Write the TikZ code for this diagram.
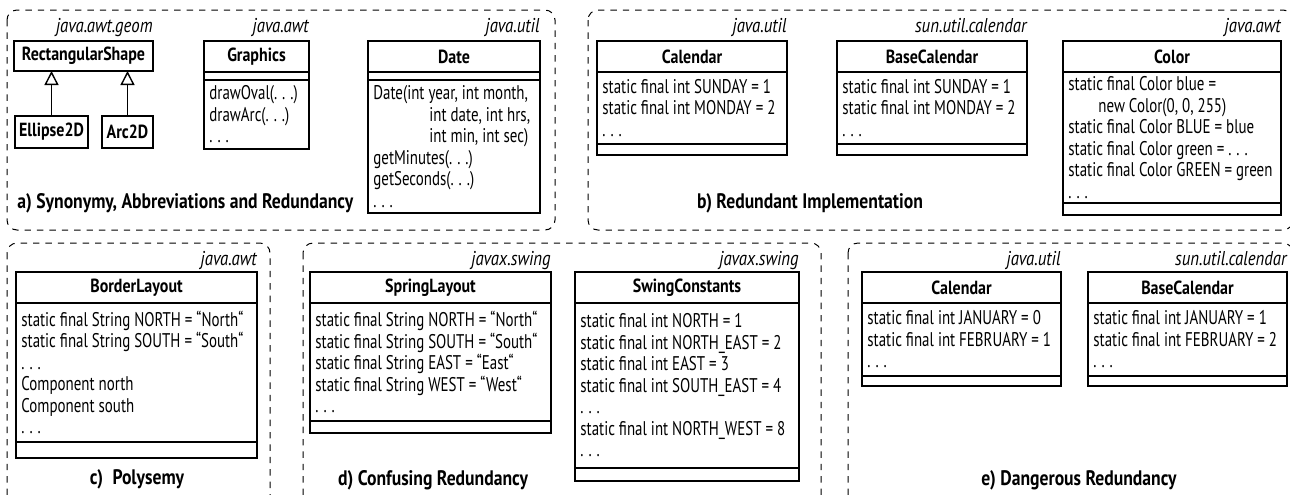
\documentclass[tikz,border=0pt]{standalone}
\usepackage{fontspec}
\setmainfont{PT Sans}[FakeStretch=0.84]
\newfontfamily\memberfont{PT Sans}[FakeStretch=0.755]
\usetikzlibrary{arrows.meta}

% spaced ellipsis used in member lists
\newcommand\dotsx{.\kern.25em.\kern.25em.}

\tikzset{
  grp/.style={draw, line width=0.5pt, dash pattern=on 3.2pt off 3pt, rounded corners=5pt},
  clshead/.style={draw, line width=0.7pt, inner sep=0pt, outer sep=0pt,
    font=\fontsize{9.5}{11}\selectfont\bfseries},
  clsbox/.style={draw, line width=0.7pt, inner sep=0pt, outer sep=0pt},
  members/.style={inner xsep=2.5pt, inner ysep=0pt, align=left, anchor=west,
    font=\memberfont\fontsize{9.9}{10.75}\selectfont},
  pkg/.style={inner sep=0pt, font=\fontsize{10}{12}\selectfont\itshape},
  grplabel/.style={inner sep=0pt, font=\fontsize{10.5}{12}\selectfont\bfseries},
  gen/.style={line width=0.7pt, -{Triangle[open, length=7pt, width=7pt]}},
}

% class box: header, attribute compartment with text, empty operation compartment
% #1 name, #2 left, #3 top, #4 width, #5 header h, #6 attribute h, #7 operation h, #8 title, #9 attributes
\newcommand\umlattr[9]{%
  \pgfmathsetlengthmacro\clsw{#4*0.5pt}%
  \node[clshead, minimum width=\clsw, minimum height=#5*0.5pt, anchor=north west] (#1) at (#2,#3) {#8};
  \node[clsbox, minimum width=\clsw, minimum height=#6*0.5pt, anchor=north] (#1-attr) at (#1.south) {};
  \node[clsbox, minimum width=\clsw, minimum height=#7*0.5pt, anchor=north] (#1-ops) at (#1-attr.south) {};
  \node[members] (#1-attrtext) at (#1-attr.west) {#9};
}
% class box: header, empty attribute compartment, operation compartment with text
\newcommand\umlops[9]{%
  \pgfmathsetlengthmacro\clsw{#4*0.5pt}%
  \node[clshead, minimum width=\clsw, minimum height=#5*0.5pt, anchor=north west] (#1) at (#2,#3) {#8};
  \node[clsbox, minimum width=\clsw, minimum height=#6*0.5pt, anchor=north] (#1-attr) at (#1.south) {};
  \node[clsbox, minimum width=\clsw, minimum height=#7*0.5pt, anchor=north] (#1-ops) at (#1-attr.south) {};
  \node[members] (#1-opstext) at (#1-ops.west) {#9};
}

\begin{document}
\begin{tikzpicture}[x=0.5pt, y=-0.5pt]
\clip (0,0) rectangle (1290,494);

% ---------- group frames ----------
\draw[grp] (7,10) rectangle (555,230);
\draw[grp] (588,10) rectangle (1293,230);
\draw[grp] (7,243) rectangle (270,510);
\draw[grp] (303,243) rectangle (821,510);
\draw[grp] (848,243) rectangle (1293,510);

% ---------- a) synonymy, abbreviations and redundancy ----------
\node[clshead, minimum width=69.5pt, minimum height=15pt, anchor=north west] (rs) at (14,41) {RectangularShape};
\node[clshead, minimum width=36.5pt, minimum height=16pt, anchor=north west] (e2d) at (15,116) {Ellipse2D};
\node[clshead, minimum width=25.5pt, minimum height=16pt, anchor=north west] (arc) at (102,116) {Arc2D};
\draw[gen] (e2d.north) -- (e2d.north |- rs.south);
\draw[gen] (arc.north) -- (arc.north |- rs.south);
\node[pkg, anchor=base east] (rs-pkg) at (rs.north east |- 0,32) {java.awt.geom};

\umlops{gfx}{204}{41}{105}{31}{8}{69}{Graphics}{drawOval(\dotsx)\\ drawArc(\dotsx)\\ \dotsx}
\node[pkg, anchor=base east] (gfx-pkg) at (gfx.north east |- 0,32) {java.awt};

\umlops{date}{368}{41}{172}{31}{8}{133}{Date}{Date(int year, int month,\\
  \hspace*{28pt}int date, int hrs,\\
  \hspace*{28pt}int min, int sec)\\
  getMinutes(\dotsx)\\ getSeconds(\dotsx)\\ \dotsx}
\node[pkg, anchor=base east] (date-pkg) at (date.north east |- 0,32) {java.util};

\node[grplabel, anchor=west] (la) at (17,203) {a) Synonymy, Abbreviations and Redundancy};

% ---------- b) redundant implementation ----------
\umlattr{calb}{597}{41}{190}{31}{72}{11}{Calendar}{static final int SUNDAY = 1\\ static final int MONDAY = 2\\ \dotsx}
\node[pkg, anchor=base east] (calb-pkg) at (calb.north east |- 0,32) {java.util};

\umlattr{bcalb}{837}{41}{190}{31}{72}{11}{BaseCalendar}{static final int SUNDAY = 1\\ static final int MONDAY = 2\\ \dotsx}
\node[pkg, anchor=base east] (bcalb-pkg) at (bcalb.north east |- 0,32) {sun.util.calendar};

\umlattr{color}{1063}{41}{218}{31}{131}{12}{Color}{static final Color blue =\\
  \hspace*{15pt}new Color(0, 0, 255)\\
  static final Color BLUE = blue\\
  static final Color green = \dotsx\\
  static final Color GREEN = green\\ \dotsx}
\node[pkg, anchor=base east] (color-pkg) at (color.north east |- 0,32) {java.awt};

\node[grplabel] (lb) at (810,203) {b) Redundant Implementation};

% ---------- c) polysemy ----------
\umlattr{border}{16}{272}{241}{31}{139}{16}{BorderLayout}{static final String NORTH = “North“\\
  static final String SOUTH = “South“\\ \dotsx\\
  Component north\\ Component south\\ \dotsx}
\node[pkg, anchor=base east] (border-pkg) at (border.north east |- 0,265) {java.awt};

\node[grplabel] (lc) at (137,479) {c)\hspace{0.45em}Polysemy};

% ---------- d) confusing redundancy ----------
\umlattr{spring}{310}{272}{241}{31}{118}{12}{SpringLayout}{static final String NORTH = “North“\\
  static final String SOUTH = “South“\\
  static final String EAST = “East“\\
  static final String WEST = “West“\\ \dotsx}
\node[pkg, anchor=base east] (spring-pkg) at (spring.north east |- 0,265) {javax.swing};

\umlattr{swing}{575}{272}{224}{31}{165}{13}{SwingConstants}{static final int NORTH = 1\\
  static final int NORTH\_EAST = 2\\
  static final int EAST = 3\\
  static final int SOUTH\_EAST = 4\\ \dotsx\\
  static final int NORTH\_WEST = 8\\ \dotsx}
\node[pkg, anchor=base east] (swing-pkg) at (swing.north east |- 0,265) {javax.swing};

\node[grplabel] (ld) at (433,480) {d) Confusing Redundancy};

% ---------- e) dangerous redundancy ----------
\umlattr{cale}{862}{272}{199}{31}{73}{10}{Calendar}{static final int JANUARY = 0\\ static final int FEBRUARY = 1\\ \dotsx}
\node[pkg, anchor=base east] (cale-pkg) at (cale.north east |- 0,265) {java.util};

\umlattr{bcale}{1088}{272}{199}{31}{73}{10}{BaseCalendar}{static final int JANUARY = 1\\ static final int FEBRUARY = 2\\ \dotsx}
\node[pkg, anchor=base east] (bcale-pkg) at (bcale.north east |- 0,265) {sun.util.calendar};

\node[grplabel] (le) at (1079,480) {e) Dangerous Redundancy};
\end{tikzpicture}
\end{document}
